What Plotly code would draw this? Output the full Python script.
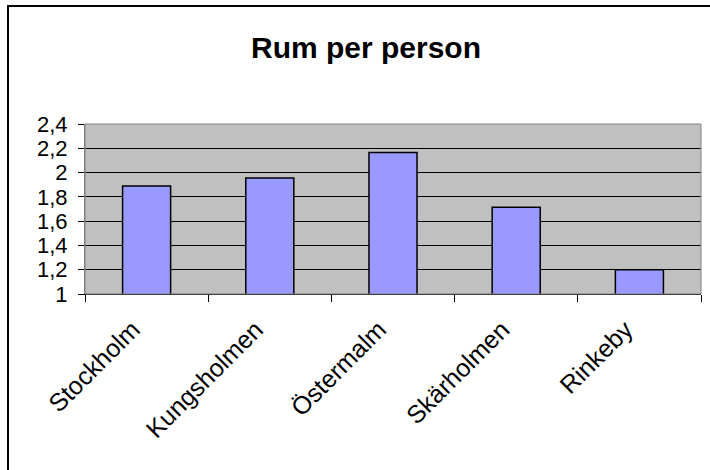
import plotly.graph_objects as go

categories = ["Stockholm", "Kungsholmen", "Östermalm", "Skärholmen", "Rinkeby"]
values = [1.89, 1.955, 2.165, 1.715, 1.20]
y_tickvals = [1.0, 1.2, 1.4, 1.6, 1.8, 2.0, 2.2, 2.4]
y_ticktext = ["1", "1,2", "1,4", "1,6", "1,8", "2", "2,2", "2,4"]
title_text = "Rum per person"

FONT = "Liberation Sans, Arial, sans-serif"

fig = go.Figure(
    go.Bar(
        x=categories,
        y=values,
        base=0,
        marker=dict(color="#9999FF", line=dict(color="#000000", width=1.5)),
        width=0.39,
    )
)

W, H = 710, 470
L, R, T, B = 85, 9, 124, 176
pw, ph = W - L - R, H - T - B

fig.update_layout(
    width=W,
    height=H,
    margin=dict(l=L, r=R, t=T, b=B, pad=0),
    paper_bgcolor="white",
    plot_bgcolor="#C0C0C0",
    showlegend=False,
    font=dict(family=FONT, size=22, color="black"),
    title=dict(
        text="<b>" + title_text + "</b>",
        font=dict(family=FONT, size=30, color="black"),
        x=366 / W,
        xanchor="center",
        y=1 - 47 / H,
        yanchor="middle",
    ),
    xaxis=dict(
        type="category",
        range=[-0.5, 4.5],
        tickson="boundaries",
        ticks="outside",
        ticklen=7,
        tickcolor="black",
        tickwidth=1,
        tickangle=-45,
        showgrid=False,
        showline=True,
        linecolor="black",
        linewidth=1,
        tickfont=dict(family=FONT, size=25),
        ticklabelshift=-14,
        ticklabelstandoff=10,
    ),
    yaxis=dict(
        range=[1.0, 2.4],
        tickvals=y_tickvals,
        ticktext=y_ticktext,
        ticks="outside",
        ticklen=6,
        tickcolor="black",
        tickwidth=1,
        showgrid=True,
        gridcolor="#000000",
        gridwidth=1,
        showline=True,
        linecolor="#808080",
        linewidth=1,
        zeroline=False,
        tickfont=dict(family=FONT, size=22),
        ticklabelstandoff=6,
    ),
    shapes=[
        dict(type="rect", xref="paper", yref="paper", x0=0, x1=1, y0=0, y1=1,
             line=dict(color="#808080", width=1), fillcolor="rgba(0,0,0,0)", layer="above"),
        dict(type="rect", xref="paper", yref="paper",
             x0=(8 - L) / pw, x1=(W + 20 - L) / pw,
             y0=-(H + 20 - T - ph) / ph, y1=(T + ph - 6) / ph,
             line=dict(color="black", width=2), fillcolor="rgba(0,0,0,0)"),
    ],
)

fig.write_html(
    "out.html",
    config={"displayModeBar": False},
    post_script="document.body.style.margin='0px';document.body.style.overflow='hidden';",
)
